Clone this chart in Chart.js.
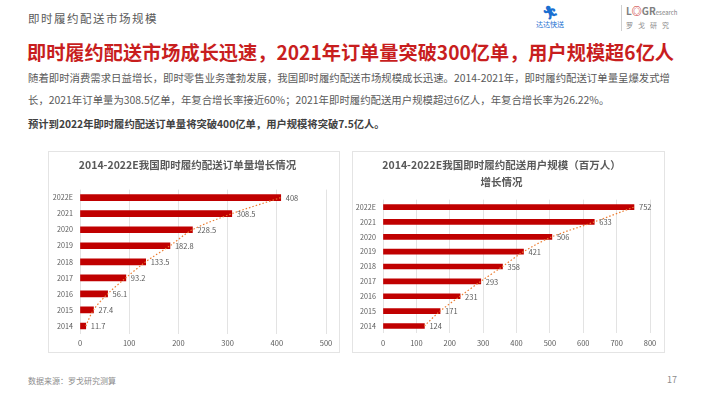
<!DOCTYPE html>
<html>
<head>
<meta charset="utf-8">
<script src="https://cdn.jsdelivr.net/npm/chart.js@4.4.1/dist/chart.umd.min.js"></script>
<style>
  html, body { margin: 0; padding: 0; background: #fff; }
  body { width: 710px; height: 399px; position: relative; overflow: hidden;
         font-family: "Noto Sans CJK SC", "Noto Sans", sans-serif; }
  .abs { position: absolute; white-space: nowrap; }
  #header { left: 28px; top: 10px; font-size: 11.5px; color: #595959; letter-spacing: 1.5px; }
  #title { left: 27px; top: 38px; font-size: 19.2px; font-weight: bold; color: #c81e1e; }
  .para { left: 28px; font-size: 10.4px; color: #595959; }
  #bold { left: 28px; top: 116px; font-size: 10.3px; font-weight: bold; color: #404040; }
  .box { position: absolute; border: 1px solid #e4e4e4; background: #fff; }
  #footer { left: 28px; top: 375px; font-size: 8px; color: #8c8c8c; }
  #page { left: 667px; top: 373px; font-size: 9px; color: #8c8c8c; }
  #logo1 { left: 536px; top: 4px; font-size: 7px; color: #1a6fd1; text-align: center; }
  #logo2 { left: 626px; top: 4px; font-size: 7px; color: #8c8c8c; }
  #sep { left: 621px; top: 5px; width: 1px; height: 26px; background: #d0d0d0; }
</style>
</head>
<body>
<div class="abs" id="header">即时履约配送市场规模</div>
<div class="abs" id="logo1"><div style="font-size:13px;font-weight:bold;line-height:15px;">&#x1F3C3;&#xFE0E;</div>达达快送</div>
<div class="abs" id="sep"></div>
<div class="abs" id="logo2"><div style="font-size:10px;font-weight:bold;line-height:14px;color:#7f7f7f;">L<span style="color:#c81e1e">◎</span>GR<span style="font-size:6px;font-weight:normal">esearch</span></div><div style="letter-spacing:5px;">罗戈研究</div></div>
<div class="abs" id="title">即时履约配送市场成长迅速，2021年订单量突破300亿单，用户规模超6亿人</div>
<div class="abs para" style="top:70px;">随着即时消费需求日益增长，即时零售业务蓬勃发展，我国即时履约配送市场规模成长迅速。2014-2021年，即时履约配送订单量呈爆发式增</div>
<div class="abs para" style="top:92px;">长，2021年订单量为308.5亿单，年复合增长率接近60%；2021年即时履约配送用户规模超过6亿人，年复合增长率为26.22%。</div>
<div class="abs" id="bold">预计到2022年即时履约配送订单量将突破400亿单，用户规模将突破7.5亿人。</div>

<div class="box" style="left:48px; top:151px; width:290px; height:200px;"><canvas id="c1" width="290" height="200"></canvas></div>
<div class="box" style="left:352px; top:151px; width:311px; height:200px;"><canvas id="c2" width="311" height="200"></canvas></div>

<div class="abs" id="footer">数据来源：罗戈研究测算</div>
<div class="abs" id="page">17</div>

<script>
const years = ['2014', '2015', '2016', '2017', '2018', '2019', '2020', '2021', '2022E'];
const orderVolume = [11.7, 27.4, 56.1, 93.2, 133.5, 182.8, 228.5, 308.5, 408];
const userScale = [124, 171, 231, 293, 358, 421, 506, 633, 752];
const orderTitle = '2014-2022E我国即时履约配送订单量增长情况';
const userTitle = ['2014-2022E我国即时履约配送用户规模（百万人）', '增长情况'];

const BAR_RED = '#c00000';
const TEXT_GRAY = '#595959';
const FONT = '"Noto Sans CJK SC", "Noto Sans", sans-serif';

// value labels at bar ends
const barLabels = {
    id: 'barLabels',
    afterDatasetsDraw(chart) {
        const ctx = chart.ctx;
        const meta = chart.getDatasetMeta(1);
        ctx.save();
        ctx.font = '7.5px ' + FONT;
        ctx.fillStyle = TEXT_GRAY;
        ctx.textBaseline = 'middle';
        meta.data.forEach((bar, i) => {
            ctx.fillText(String(chart.data.datasets[1].data[i]), bar.x + 5, bar.y + 0.5);
        });
        ctx.restore();
    }
};

function makeChart(id, values, title, cfg) {
    return new Chart(document.getElementById(id), {
        type: 'bar',
        data: {
            labels: years,
            datasets: [
                {
                    type: 'line',
                    data: values,
                    borderColor: '#ed7d31',
                    borderWidth: 1.2,
                    borderDash: [1.5, 2],
                    pointRadius: 0,
                    tension: 0.3,
                    order: 0
                },
                {
                    type: 'bar',
                    data: values,
                    backgroundColor: BAR_RED,
                    barThickness: cfg.bar,
                    order: 1
                }
            ]
        },
        options: {
            indexAxis: 'y',
            responsive: false,
            animation: false,
            layout: { padding: { left: 0, right: cfg.right, top: 0, bottom: 0 } },
            plugins: {
                legend: { display: false },
                tooltip: { enabled: false },
                title: {
                    display: true,
                    text: title,
                    color: TEXT_GRAY,
                    font: { family: FONT, size: 10.5, weight: 'bold', lineHeight: cfg.lh },
                    padding: { top: cfg.tTop, bottom: cfg.tBottom }
                }
            },
            scales: {
                x: {
                    min: 0,
                    max: cfg.max,
                    ticks: { stepSize: 100, color: TEXT_GRAY, font: { family: FONT, size: 7.5 }, padding: 5 },
                    grid: { color: '#e3e3e3', drawTicks: false },
                    border: { display: false },
                    afterFit: s => { s.height = cfg.xh; }
                },
                y: {
                    reverse: true,
                    ticks: { color: TEXT_GRAY, font: { family: FONT, size: 7.2 }, padding: 7 },
                    grid: { display: false, drawTicks: false },
                    border: { display: false },
                    afterFit: s => { s.width = cfg.yw; }
                }
            }
        },
        plugins: [barLabels]
    });
}

makeChart('c1', orderVolume, orderTitle, { bar: 6, max: 500, right: 13, yw: 31, xh: 18, lh: 1.2, tTop: 7, tBottom: 18 });
makeChart('c2', userScale, userTitle, { bar: 5, max: 800, right: 14, yw: 30, xh: 18.6, lh: 1.65, tTop: 4, tBottom: 9 });
</script>
</body>
</html>
